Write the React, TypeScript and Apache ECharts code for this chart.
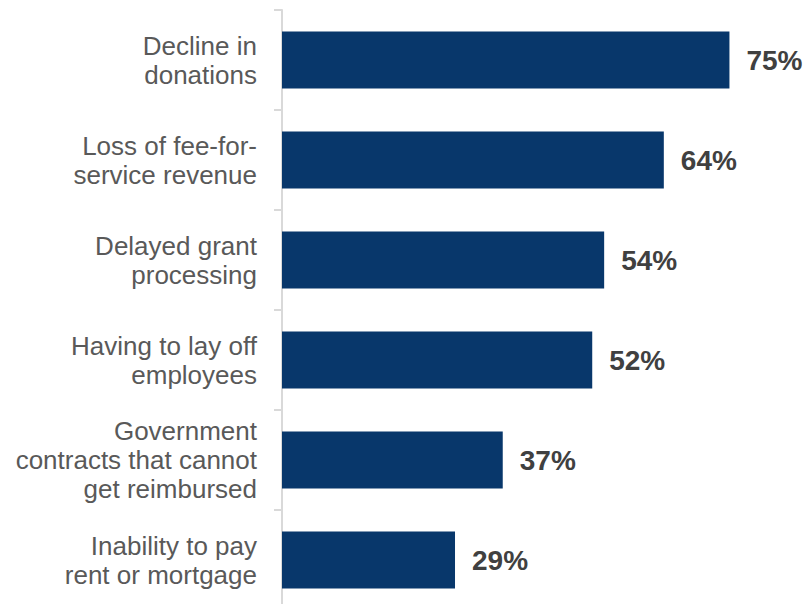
import React, { useEffect, useRef } from "react";
import * as echarts from "echarts";

const categories = [
  "Decline in\ndonations",
  "Loss of fee-for-\nservice revenue",
  "Delayed grant\nprocessing",
  "Having to lay off\nemployees",
  "Government\ncontracts that cannot\nget reimbursed",
  "Inability to pay\nrent or mortgage",
];
const values = [75, 64, 54, 52, 37, 29];

export default function App() {
  const ref = useRef<HTMLDivElement>(null);
  useEffect(() => {
    if (!ref.current) return;
    const chart = echarts.init(ref.current, null, { renderer: "svg" });
    chart.setOption({
      animation: false,
      grid: { left: 282, top: 10, width: 526, height: 600, containLabel: false },
      xAxis: {
        type: "value",
        min: 0,
        max: 88,
        show: false,
      },
      yAxis: {
        type: "category",
        data: categories,
        inverse: true,
        axisLine: { show: true, lineStyle: { color: "#d9d9d9", width: 2 } },
        axisTick: { show: true, length: 8, lineStyle: { color: "#d9d9d9", width: 2 } },
        axisLabel: {
          margin: 25,
          color: "#595959",
          fontFamily: "Liberation Sans, Arial, sans-serif",
          fontSize: 26,
          lineHeight: 29,
          align: "right",
        },
      },
      series: [
        {
          type: "bar",
          data: values,
          barWidth: 57,
          itemStyle: { color: "#08376b" },
          label: {
            show: true,
            position: "right",
            distance: 17,
            formatter: "{c}%",
            color: "#404040",
            fontWeight: "bold",
            fontFamily: "Liberation Sans, Arial, sans-serif",
            fontSize: 28,
          },
        },
      ],
    });
    return () => chart.dispose();
  }, []);
  return (
    <div
      style={{ position: "fixed", left: 0, top: 0, width: 807, height: 604, overflow: "hidden", background: "#fff" }}
    >
      <div ref={ref} style={{ width: 807, height: 620 }} />
    </div>
  );
}
